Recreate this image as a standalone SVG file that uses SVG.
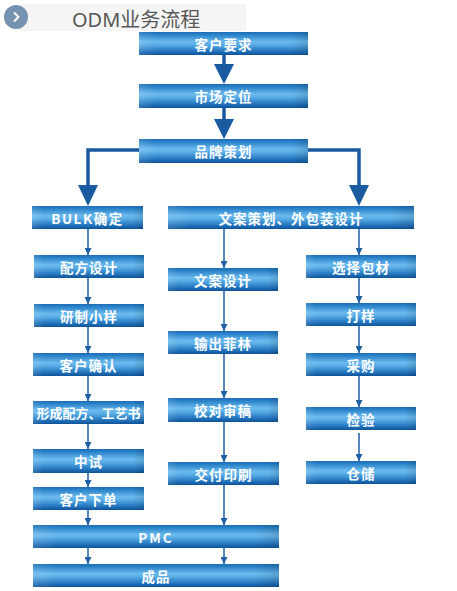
<svg xmlns="http://www.w3.org/2000/svg" width="457" height="591" viewBox="0 0 457 591">
<defs>
<linearGradient id="bar" x1="0" y1="0" x2="0" y2="1">
<stop offset="0" stop-color="#1d6cb6"/>
<stop offset="0.12" stop-color="#2a82c8"/>
<stop offset="0.42" stop-color="#6bbaee"/>
<stop offset="0.55" stop-color="#5aaee6"/>
<stop offset="0.82" stop-color="#2678c0"/>
<stop offset="1" stop-color="#0f5398"/>
</linearGradient>
<linearGradient id="shade" x1="0" y1="0" x2="1" y2="0">
<stop offset="0" stop-color="#ffffff" stop-opacity="0.12"/>
<stop offset="0.1" stop-color="#ffffff" stop-opacity="0"/>
<stop offset="0.9" stop-color="#000000" stop-opacity="0"/>
<stop offset="1" stop-color="#000000" stop-opacity="0.12"/>
</linearGradient>
<marker id="ah" markerUnits="userSpaceOnUse" markerWidth="8" markerHeight="7" refX="7" refY="3.5" orient="auto">
<path d="M0,0 L7,3.5 L0,7 z" fill="#1f5fa3"/>
</marker>
</defs>
<style>
.box rect.b{fill:url(#bar)}
.box rect.s{fill:url(#shade)}
.box text{font-family:"Noto Sans CJK SC","Noto Sans",sans-serif;font-weight:bold;font-size:13.5px;fill:#ffffff;text-anchor:middle;dominant-baseline:central;letter-spacing:1px}
.thin{stroke:#1f5fa3;stroke-width:1.5;fill:none;marker-end:url(#ah)}
.thick{stroke:#1a5a9e;stroke-width:3.5;fill:none}
.head{fill:#1a5a9e}
</style>
<rect width="457" height="591" fill="#ffffff"/>
<g id="header">
<rect x="20" y="4" width="226" height="27" fill="#f5f5f5"/>
<circle cx="16" cy="17" r="12" fill="#7592b0"/>
<path d="M14,12.5 L18.5,17 L14,21.5" stroke="#ffffff" stroke-width="2" fill="none"/>
<text x="72" y="27" font-family="'Noto Sans','Noto Sans CJK SC',sans-serif" font-size="20" fill="#585858">ODM业务流程</text>
</g>
<g id="connectors">
<line class="thick" x1="224" y1="55" x2="224" y2="66"/>
<polygon class="head" points="214,64 234,64 224,84"/>
<line class="thick" x1="224" y1="108" x2="224" y2="121"/>
<polygon class="head" points="214,119 234,119 224,139"/>
<polyline class="thick" points="139,150 88,150 88,187"/>
<polygon class="head" points="78,185 98,185 88,206"/>
<polyline class="thick" points="308,150 359,150 359,187"/>
<polygon class="head" points="349,185 369,185 359,206"/>
<line class="thin" x1="88" y1="229" x2="88" y2="255"/>
<line class="thin" x1="88" y1="278" x2="88" y2="304"/>
<line class="thin" x1="88" y1="327" x2="88" y2="353"/>
<line class="thin" x1="88" y1="376" x2="88" y2="401"/>
<line class="thin" x1="88" y1="424" x2="88" y2="449"/>
<line class="thin" x1="88" y1="473" x2="88" y2="487"/>
<line class="thin" x1="88" y1="510" x2="88" y2="525"/>
<line class="thin" x1="88" y1="548" x2="88" y2="564"/>
<line class="thin" x1="224" y1="229" x2="224" y2="268"/>
<line class="thin" x1="224" y1="291" x2="224" y2="331"/>
<line class="thin" x1="224" y1="354" x2="224" y2="398"/>
<line class="thin" x1="224" y1="422" x2="224" y2="462"/>
<line class="thin" x1="224" y1="485" x2="224" y2="525"/>
<line class="thin" x1="224" y1="548" x2="224" y2="564"/>
<line class="thin" x1="359" y1="229" x2="359" y2="255"/>
<line class="thin" x1="359" y1="278" x2="359" y2="303"/>
<line class="thin" x1="359" y1="326" x2="359" y2="353"/>
<line class="thin" x1="359" y1="376" x2="359" y2="407"/>
<line class="thin" x1="359" y1="433" x2="359" y2="461"/>
</g>
<g id="n1" class="box"><rect class="b" x="139" y="32" width="169" height="23"/><rect class="s" x="139" y="32" width="169" height="23"/><text x="223.5" y="43.5">客户要求</text></g>
<g id="n2" class="box"><rect class="b" x="139" y="84" width="169" height="24"/><rect class="s" x="139" y="84" width="169" height="24"/><text x="223.5" y="96">市场定位</text></g>
<g id="n3" class="box"><rect class="b" x="139" y="139" width="169" height="24"/><rect class="s" x="139" y="139" width="169" height="24"/><text x="223.5" y="151">品牌策划</text></g>
<g id="n4" class="box"><rect class="b" x="32" y="206" width="111" height="23"/><rect class="s" x="32" y="206" width="111" height="23"/><text x="87.5" y="217.5" style="letter-spacing:1.5px">BULK确定</text></g>
<g id="n5" class="box"><rect class="b" x="168" y="206" width="246" height="23"/><rect class="s" x="168" y="206" width="246" height="23"/><text x="291" y="217.5">文案策划、外包装设计</text></g>
<g id="n6" class="box"><rect class="b" x="34" y="255" width="110" height="23"/><rect class="s" x="34" y="255" width="110" height="23"/><text x="89" y="266.5">配方设计</text></g>
<g id="n7" class="box"><rect class="b" x="34" y="304" width="110" height="23"/><rect class="s" x="34" y="304" width="110" height="23"/><text x="89" y="315.5">研制小样</text></g>
<g id="n8" class="box"><rect class="b" x="33" y="353" width="111" height="23"/><rect class="s" x="33" y="353" width="111" height="23"/><text x="88.5" y="364.5">客户确认</text></g>
<g id="n9" class="box"><rect class="b" x="33" y="401" width="111" height="23"/><rect class="s" x="33" y="401" width="111" height="23"/><text x="88.5" y="412.5" style="letter-spacing:0px;font-size:13px">形成配方、工艺书</text></g>
<g id="n10" class="box"><rect class="b" x="33" y="449" width="111" height="24"/><rect class="s" x="33" y="449" width="111" height="24"/><text x="88.5" y="461">中试</text></g>
<g id="n11" class="box"><rect class="b" x="33" y="487" width="111" height="23"/><rect class="s" x="33" y="487" width="111" height="23"/><text x="88.5" y="498.5">客户下单</text></g>
<g id="n12" class="box"><rect class="b" x="168" y="268" width="110" height="23"/><rect class="s" x="168" y="268" width="110" height="23"/><text x="223" y="279.5">文案设计</text></g>
<g id="n13" class="box"><rect class="b" x="168" y="331" width="110" height="23"/><rect class="s" x="168" y="331" width="110" height="23"/><text x="223" y="342.5">输出菲林</text></g>
<g id="n14" class="box"><rect class="b" x="168" y="398" width="110" height="24"/><rect class="s" x="168" y="398" width="110" height="24"/><text x="223" y="410">校对审稿</text></g>
<g id="n15" class="box"><rect class="b" x="168" y="462" width="111" height="23"/><rect class="s" x="168" y="462" width="111" height="23"/><text x="223.5" y="473.5">交付印刷</text></g>
<g id="n16" class="box"><rect class="b" x="306" y="255" width="110" height="23"/><rect class="s" x="306" y="255" width="110" height="23"/><text x="361" y="266.5">选择包材</text></g>
<g id="n17" class="box"><rect class="b" x="306" y="303" width="110" height="23"/><rect class="s" x="306" y="303" width="110" height="23"/><text x="361" y="314.5">打样</text></g>
<g id="n18" class="box"><rect class="b" x="306" y="353" width="110" height="23"/><rect class="s" x="306" y="353" width="110" height="23"/><text x="361" y="364.5">采购</text></g>
<g id="n19" class="box"><rect class="b" x="306" y="407" width="110" height="23"/><rect class="s" x="306" y="407" width="110" height="23"/><text x="361" y="418.5">检验</text></g>
<g id="n20" class="box"><rect class="b" x="306" y="461" width="110" height="23"/><rect class="s" x="306" y="461" width="110" height="23"/><text x="361" y="472.5">仓储</text></g>
<g id="n21" class="box"><rect class="b" x="33" y="525" width="246" height="23"/><rect class="s" x="33" y="525" width="246" height="23"/><text x="156" y="536.5" style="letter-spacing:2px">PMC</text></g>
<g id="n22" class="box"><rect class="b" x="33" y="564" width="246" height="23"/><rect class="s" x="33" y="564" width="246" height="23"/><text x="156" y="575.5">成品</text></g>
</svg>
